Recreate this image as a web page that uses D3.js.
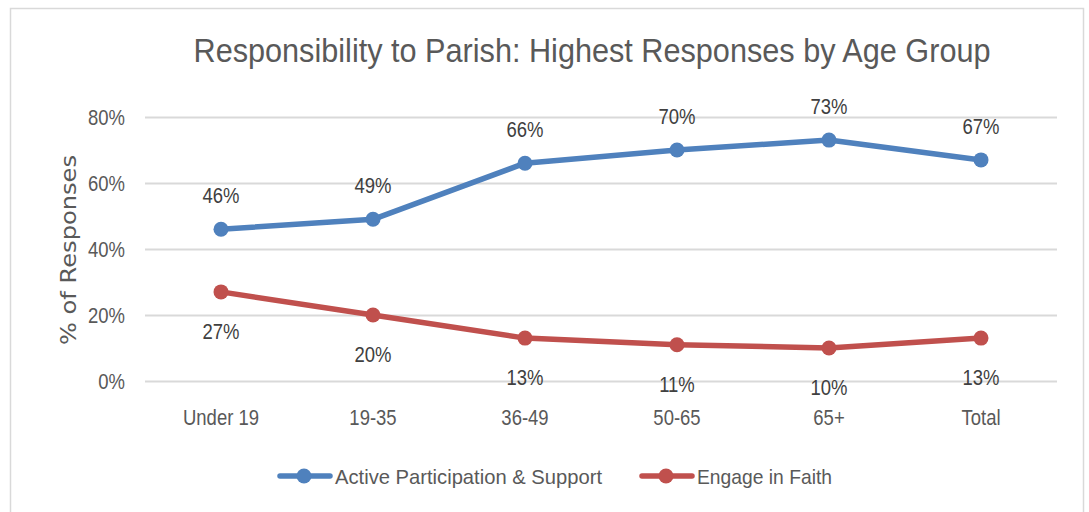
<!DOCTYPE html>
<html>
<head>
<meta charset="utf-8">
<script src="https://cdn.jsdelivr.net/npm/d3@7"></script>
<style>
  body { margin: 0; background: #fff; }
  svg text { font-family: "Liberation Sans", Arial, sans-serif; }
</style>
</head>
<body>
<svg id="chart" width="1089" height="512"></svg>
<script>
// chart data
var categories = ["Under 19", "19-35", "36-49", "50-65", "65+", "Total"];
var activeVals = [46, 49, 66, 70, 73, 67];
var faithVals = [27, 20, 13, 11, 10, 13];
var yTicks = [0, 20, 40, 60, 80];
var seriesNames = ["Active Participation & Support", "Engage in Faith"];
var seriesColors = ["#4f81bd", "#c0504d"];

var pad_left = 145, pad_right = 1057, pad_top = 117, pad_bot = 381;
var svg = d3.select("#chart");

// squeeze text horizontally, the original uses a narrow font
function squeeze(sel, k) {
    sel.each(function () {
        var w = this.getComputedTextLength();
        d3.select(this).attr("textLength", w * k).attr("lengthAdjust", "spacingAndGlyphs");
    });
}

// outer frame
svg.append("rect")
    .attr("x", 10.5).attr("y", 8.5)
    .attr("width", 1073).attr("height", 520)
    .attr("fill", "#fff").attr("stroke", "#d9d9d9").attr("stroke-width", 1.5);

var x = d3.scaleBand().domain(categories).range([pad_left, pad_right]);
var y = d3.scaleLinear().domain([0, 80]).range([pad_bot, pad_top]);

// gridlines + y labels
var yAxis = d3.axisLeft(y).tickValues(yTicks)
    .tickFormat(function (d) { return d + "%"; })
    .tickSize(-(pad_right - pad_left)).tickPadding(20);
var yg = svg.append("g").attr("transform", "translate(" + pad_left + ",0)").call(yAxis);
yg.select(".domain").remove();
yg.selectAll("line").attr("stroke", "#d9d9d9").attr("stroke-width", 2);
yg.selectAll("text").attr("fill", "#595959").style("font-size", "22px").attr("dy", "0.36em").call(squeeze, 0.84);

// x labels
var xAxis = d3.axisBottom(x).tickSize(0).tickPadding(28);
var xg = svg.append("g").attr("transform", "translate(0," + pad_bot + ")").call(xAxis);
xg.select(".domain").remove();
xg.selectAll("text").attr("fill", "#595959").style("font-size", "22px").call(squeeze, 0.84);

// title
svg.append("text")
    .attr("x", 592).attr("y", 62)
    .attr("text-anchor", "middle")
    .attr("fill", "#595959")
    .style("font-size", "33px")
    .attr("textLength", 797).attr("lengthAdjust", "spacingAndGlyphs")
    .text("Responsibility to Parish:  Highest Responses by Age Group");

// y axis title
svg.append("text")
    .attr("transform", "translate(76,250) rotate(-90)")
    .attr("text-anchor", "middle")
    .attr("fill", "#595959")
    .style("font-family", "'DejaVu Sans', sans-serif")
    .style("font-size", "22px")
    .attr("textLength", 190).attr("lengthAdjust", "spacingAndGlyphs")
    .text("% of Responses");

var line = d3.line()
    .x(function (d, i) { return x(categories[i]) + x.bandwidth() / 2; })
    .y(function (d) { return y(d); });

function drawSeries(vals, color, above) {
    svg.append("path").datum(vals)
        .attr("d", line)
        .attr("fill", "none")
        .attr("stroke", color)
        .attr("stroke-width", 5.5)
        .attr("stroke-linejoin", "round");
    svg.selectAll(null).data(vals).enter().append("circle")
        .attr("cx", function (d, i) { return x(categories[i]) + x.bandwidth() / 2; })
        .attr("cy", function (d) { return y(d); })
        .attr("r", 7.5)
        .attr("fill", color);
    svg.selectAll(null).data(vals).enter().append("text")
        .attr("x", function (d, i) { return x(categories[i]) + x.bandwidth() / 2; })
        .attr("y", function (d) { return y(d) + (above ? -26 : 47); })
        .attr("text-anchor", "middle")
        .attr("fill", "#404040")
        .style("font-size", "22px")
        .text(function (d) { return d + "%"; })
        .call(squeeze, 0.84);
}
drawSeries(activeVals, seriesColors[0], true);
drawSeries(faithVals, seriesColors[1], false);

// legend
var legendX = [280, 642];
var legendW = [267, 135];
seriesNames.forEach(function (name, i) {
    var g = svg.append("g").attr("transform", "translate(" + legendX[i] + ",476)");
    g.append("line").attr("x1", 0).attr("x2", 50).attr("y1", 0).attr("y2", 0)
        .attr("stroke", seriesColors[i]).attr("stroke-width", 5.5).attr("stroke-linecap", "round");
    g.append("circle").attr("cx", 24).attr("cy", 0).attr("r", 7.5).attr("fill", seriesColors[i]);
    g.append("text").attr("x", 55).attr("y", 8)
        .attr("fill", "#595959").style("font-size", "21px")
        .attr("textLength", legendW[i]).attr("lengthAdjust", "spacingAndGlyphs")
        .text(name);
});
</script>
</body>
</html>
